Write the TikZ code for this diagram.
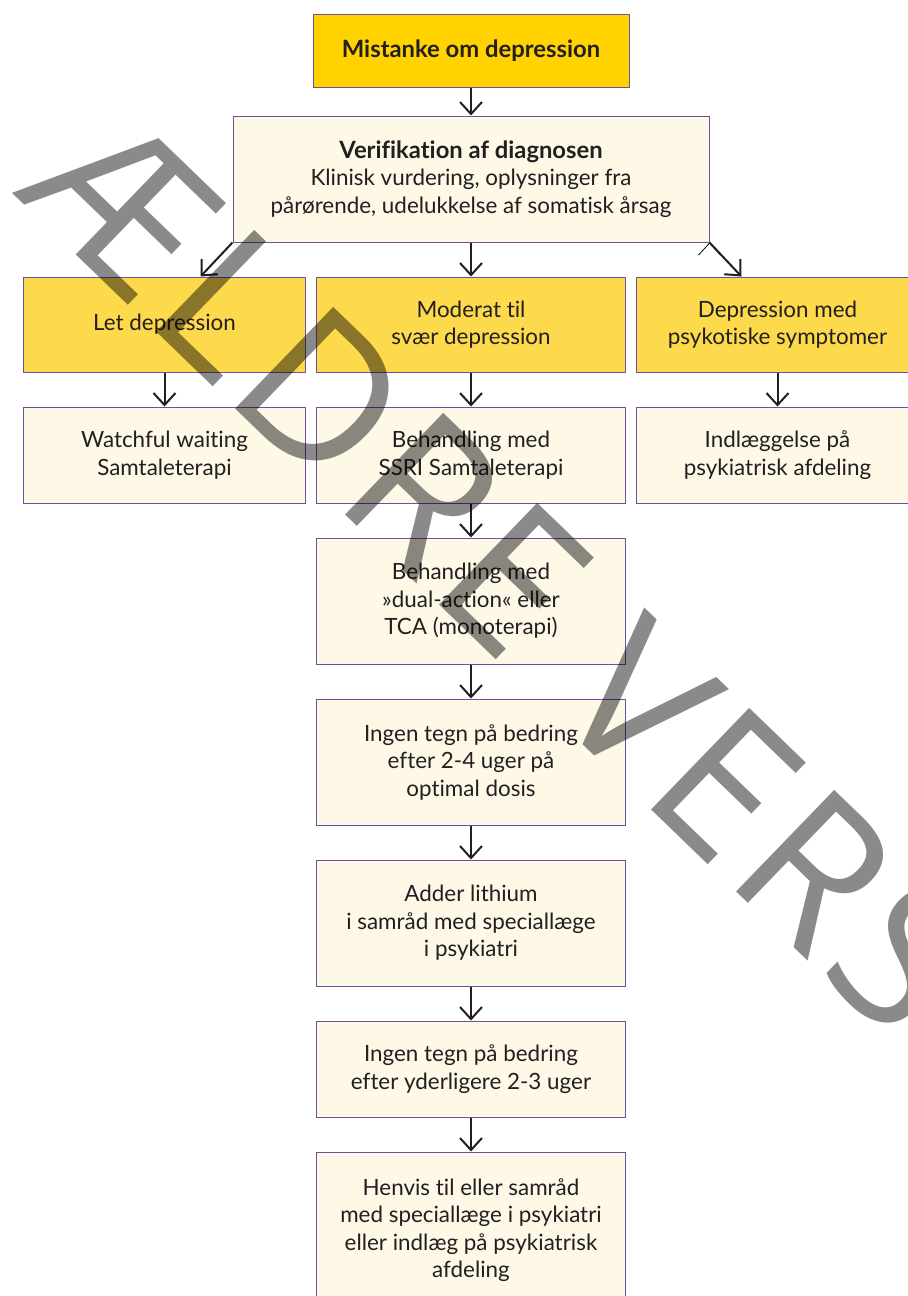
\documentclass[tikz,border=0pt]{standalone}
\usepackage{fontspec}
\setmainfont{Lato}[Ligatures=NoCommon]
\newfontfamily\stampfont{Open Sans}[LetterSpace=4]
\usepackage{tikz}
\usetikzlibrary{positioning,arrows.meta}
\definecolor{gold}{HTML}{FFD200}
\definecolor{lightgold}{HTML}{FDD94C}
\definecolor{cream}{HTML}{FEF8E7}
\definecolor{frame}{HTML}{6E4FA0}
\definecolor{ink}{HTML}{231F20}
\newcommand{\boxfont}{\fontsize{11.2}{13.75}\selectfont}
\newcommand{\headfont}{\fontsize{11.9}{13.75}\selectfont\bfseries}
\tikzset{->, % all connectors are arrows
>={Straight Barb[length=6pt,width=11pt]}, % open arrow heads
node distance=17pt, % gap between two boxes
every node/.style={font=\boxfont, text=ink, align=center, inner sep=0pt},
box/.style={draw=frame, line width=0.5pt, fill=cream, minimum width=154.5pt, minimum height=48pt}, % cream boxes
topbox/.style={box, fill=lightgold, minimum height=47.5pt}, % yellow level boxes
narrow/.style={minimum width=141pt},
tall/.style={minimum height=63pt},
every edge/.style={draw=ink, line width=1pt},
}

\begin{document}
\begin{tikzpicture}[x=0.5pt,y=0.5pt]
\clip (0,0) rectangle (908,-1296);
\fill[white] (0,0) rectangle (908,-1296);

\node[box, fill=gold, minimum width=158pt, minimum height=36.5pt] (mistanke) at (471,-50.5) {\headfont Mistanke om depression};
\node[box, below=14pt of mistanke, minimum width=238pt, tall] (verif) {{\headfont Verifikation af diagnosen}\\Klinisk vurdering, oplysninger fra\\pårørende, udelukkelse af somatisk årsag};

\node[topbox, below=of verif] (moderat) {Moderat til\\svær depression};
\node[topbox, narrow, left=5pt of moderat] (let) {Let depression};
\node[topbox, narrow, right=5pt of moderat] (psyk) {Depression med\\psykotiske symptomer};

\node[box, narrow, below=of let] (watch) {Watchful waiting\\Samtaleterapi};
\node[box, below=of moderat] (ssri) {Behandling med\\SSRI Samtaleterapi};
\node[box, narrow, below=of psyk] (indl) {Indlæggelse på\\psykiatrisk afdeling};

\node[box, tall, below=of ssri] (dual) {Behandling med\\»dual-action« eller\\TCA (monoterapi)};
\node[box, tall, below=of dual] (ingen1) {Ingen tegn på bedring\\efter 2-4 uger på\\optimal dosis};
\node[box, tall, below=of ingen1] (adder) {Adder lithium\\i samråd med speciallæge\\i psykiatri};
\node[box, below=of adder] (ingen2) {Ingen tegn på bedring\\efter yderligere 2-3 uger};
\node[box, minimum height=78pt, below=of ingen2] (henvis) {Henvis til eller samråd\\med speciallæge i psykiatri\\eller indlæg på psykiatrisk\\afdeling};

\draw
(mistanke) edge (verif)
(verif.south west) edge ([xshift=18pt]let.north)
(verif) edge (moderat)
(verif.south east) edge ([xshift=-18pt]psyk.north)
(let) edge (watch)
(moderat) edge (ssri)
(psyk) edge (indl)
(ssri) edge (dual)
(dual) edge (ingen1)
(ingen1) edge (adder)
(adder) edge (ingen2)
(ingen2) edge (henvis);

% stamp across the page
\node[rotate=-44, anchor=base west, text=black, opacity=0.46, font=\stampfont\fontsize{99}{99}\selectfont] (stempel) at (12,-193) {ÆLDRE VERSION};
\end{tikzpicture}
\end{document}
